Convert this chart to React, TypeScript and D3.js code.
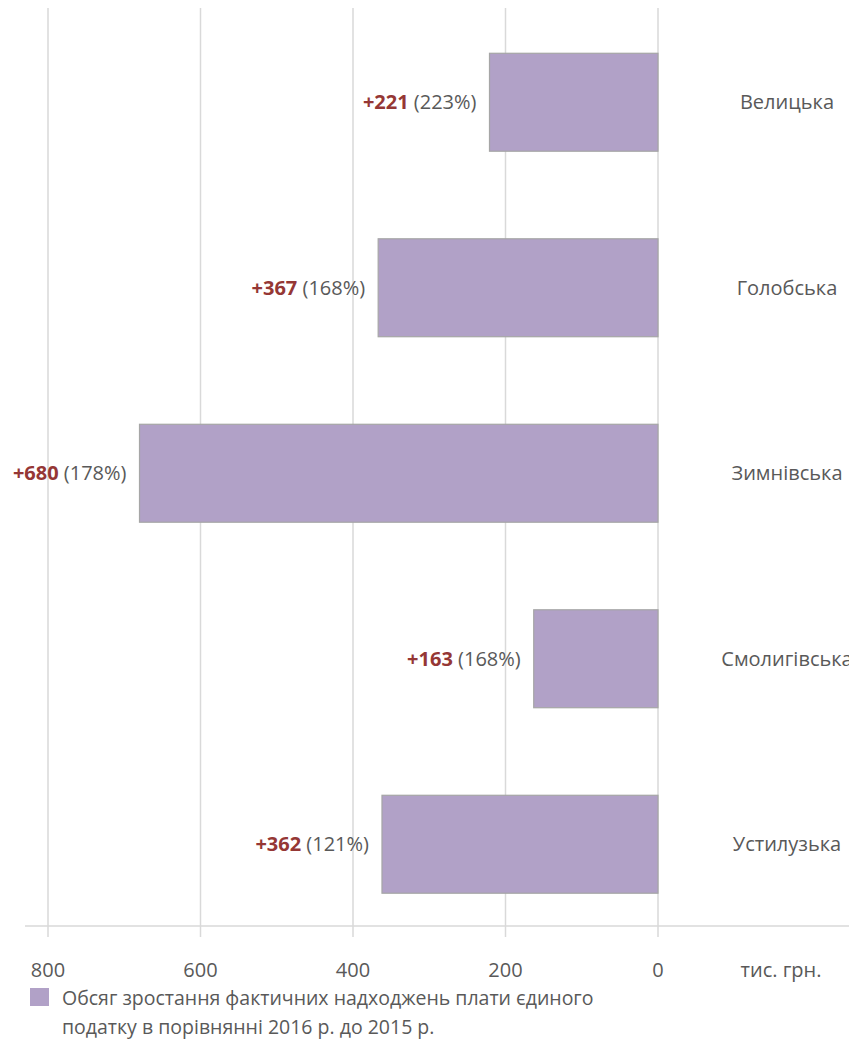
import { scaleBand, scaleLinear } from "d3";

const communities = ["Велицька", "Голобська", "Зимнівська", "Смолигівська", "Устилузька"];
const growth = [221, 367, 680, 163, 362];
const growthPct = ["223%", "168%", "178%", "168%", "121%"];
const ticks = [0, 200, 400, 600, 800];
const unitLabel = "тис. грн.";
const legendLines = [
  "Обсяг зростання фактичних надходжень плати єдиного",
  "податку в порівнянні 2016 р. до 2015 р.",
];

export default function App() {
  const width = 849;
  const height = 1039;
  const font = "'Open Sans', sans-serif";
  const grey = "#595959";

  const x = scaleLinear().domain([0, 800]).range([658, 48]);
  const y = scaleBand().domain(communities).range([9.5, 937]).paddingInner(0.472).paddingOuter(0.236);
  const axisY = 926;

  return (
    <svg width={width} height={height} style={{ position: "absolute", left: 0, top: 0 }}>
      {ticks.map(t => (
        <line key={"g" + t} x1={x(t)} x2={x(t)} y1={8} y2={937} stroke="#d9d9d9" strokeWidth={1.5} />
      ))}
      <line x1={25} x2={849} y1={axisY} y2={axisY} stroke="#d9d9d9" strokeWidth={1.5} />
      {communities.map((c, i) => {
        const y0 = y(c) as number;
        const bw = y.bandwidth();
        const xl = x(growth[i]);
        return (
          <g key={c}>
            <rect x={xl} y={y0} width={x(0) - xl} height={bw} fill="#b1a1c7" stroke="#a6a6a6" strokeWidth={1.2} />
            <text x={xl - 13} y={y0 + bw / 2} dy="0.35em" textAnchor="end" fontFamily={font} fontSize={20}>
              <tspan fill="#953735" fontWeight="bold">{"+" + growth[i]}</tspan>
              <tspan fill={grey}>{" (" + growthPct[i] + ")"}</tspan>
            </text>
            <text x={787} y={y0 + bw / 2} dy="0.35em" textAnchor="middle" fontFamily={font} fontSize={20} fill={grey}>
              {c}
            </text>
          </g>
        );
      })}
      {ticks.map(t => (
        <text key={"t" + t} x={x(t)} y={970} dy="0.35em" textAnchor="middle" fontFamily={font} fontSize={20} fill={grey}>
          {t}
        </text>
      ))}
      <text x={781} y={970} dy="0.35em" textAnchor="middle" fontFamily={font} fontSize={20} fill={grey}>
        {unitLabel}
      </text>
      <rect x={30} y={988} width={19} height={18} fill="#b1a1c7" />
      {legendLines.map((l, i) => (
        <text key={i} x={62} y={998 + i * 29} dy="0.35em" fontFamily={font} fontSize={19.5} fill={grey}>
          {l}
        </text>
      ))}
    </svg>
  );
}
